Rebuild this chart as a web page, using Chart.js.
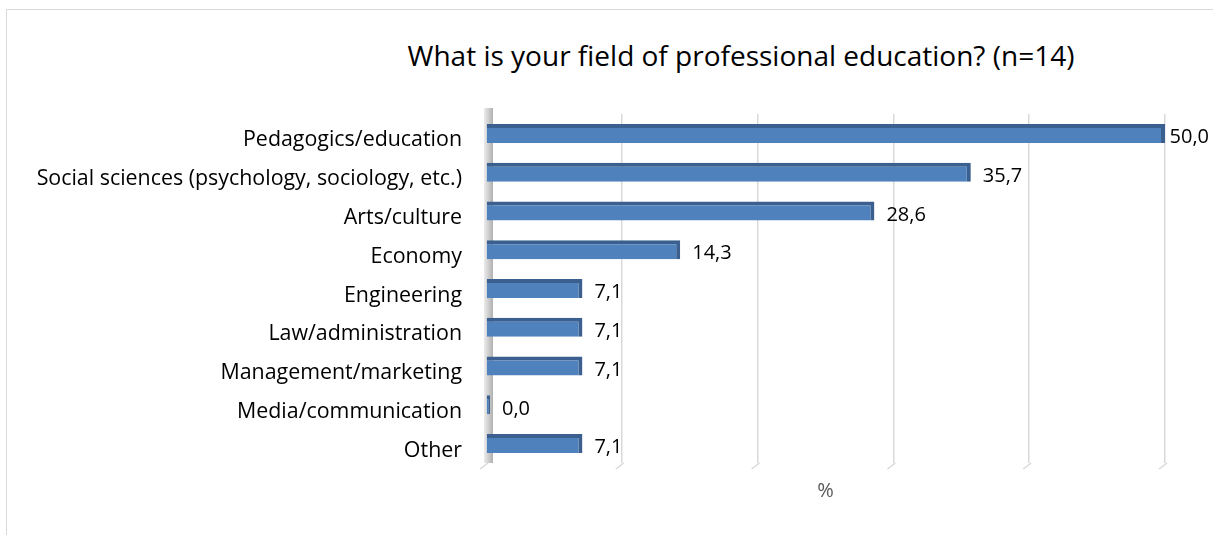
<!DOCTYPE html>
<html>
<head>
<meta charset="utf-8">
<script src="https://cdn.jsdelivr.net/npm/chart.js@4.4.1/dist/chart.umd.min.js"></script>
<style>
  html, body { margin: 0; padding: 0; background: #fff; overflow: hidden; }
  #frame { position: absolute; left: 6px; top: 9px; width: 1300px; height: 600px;
           border-left: 1px solid #d9d9d9; border-top: 1px solid #d9d9d9; }
  #title { position: absolute; left: 241px; width: 1000px; top: 36px; text-align: center;
           font-family: "Open Sans", sans-serif; font-size: 28px; color: #000; }
  #wrap { position: absolute; left: 0; top: 0; width: 1213px; height: 535px; }
</style>
</head>
<body>
<div id="frame"></div>
<div id="title">What is your field of professional education? (n=14)</div>
<div id="wrap"><canvas id="chart"></canvas></div>
<script>
// survey answers, % of respondents
var fields = ['Pedagogics/education', 'Social sciences (psychology, sociology, etc.)', 'Arts/culture',
              'Economy', 'Engineering', 'Law/administration', 'Management/marketing',
              'Media/communication', 'Other'];
var shares = [50.0, 35.7, 28.6, 14.3, 7.1, 7.1, 7.1, 0.0, 7.1];
var axisTitle = '%';

// grey side wall behind the bars
var wallPlugin = {
    id: 'wall',
    beforeDatasetsDraw: function(chart) {
        var ctx = chart.ctx, a = chart.chartArea;
        var g = ctx.createLinearGradient(a.left - 2, 0, a.left + 7, 0);
        g.addColorStop(0, '#ececec');
        g.addColorStop(1, '#b0b0b0');
        ctx.save();
        ctx.fillStyle = g;
        ctx.fillRect(a.left - 2, a.top - 6, 9, a.bottom - a.top + 6);
        // little floor toes under the gridlines
        var xs = chart.scales.x;
        ctx.strokeStyle = '#d9d9d9';
        ctx.lineWidth = 1.5;
        xs.ticks.forEach(function(t) {
            var x = xs.getPixelForValue(t.value);
            ctx.beginPath();
            ctx.moveTo(x + 2, a.bottom);
            ctx.lineTo(x - 6, a.bottom + 6);
            ctx.stroke();
        });
        ctx.restore();
    }
};

var valueLabels = {
    id: 'valueLabels',
    afterDatasetsDraw: function(chart) {
        var ctx = chart.ctx;
        var meta = chart.getDatasetMeta(0);
        ctx.save();
        ctx.font = '20px "Open Sans"';
        ctx.fillStyle = '#000';
        ctx.textBaseline = 'middle';
        meta.data.forEach(function(bar, i) {
            var txt = shares[i].toFixed(1).replace('.', ',');
            var w = ctx.measureText(txt).width;
            var x = bar.x + 12;
            if (x + w > chart.width - 4) x = chart.width - 4 - w;
            ctx.fillText(txt, x, bar.y + 4);
        });
        ctx.restore();
    }
};

var ctx = document.getElementById('chart').getContext('2d');
var chart = new Chart(ctx, {
    type: 'bar',
    data: {
        labels: fields,
        datasets: [{
            data: shares,
            backgroundColor: '#4f81bd',
            borderColor: '#3b6090',
            borderWidth: { top: 4, right: 4, bottom: 0, left: 0 },
            borderSkipped: 'start',
            barPercentage: 0.49,
            categoryPercentage: 1,
            minBarLength: 4
        }]
    },
    options: {
        indexAxis: 'y',
        responsive: true,
        maintainAspectRatio: false,
        animation: false,
        layout: { padding: { top: 114, right: 48, bottom: 28, left: 0 } },
        plugins: {
            legend: { display: false },
            tooltip: { enabled: false }
        },
        scales: {
            x: {
                min: 0,
                max: 50,
                ticks: { display: false, stepSize: 10 },
                grid: { color: '#d9d9d9', lineWidth: 1.5, drawTicks: false },
                border: { display: false },
                title: {
                    display: true,
                    text: axisTitle,
                    color: '#595959',
                    font: { family: 'Open Sans', size: 20 },
                    padding: { top: 16, bottom: 4 }
                }
            },
            y: {
                grid: { display: false },
                border: { display: false },
                ticks: {
                    color: '#000',
                    font: { family: 'Open Sans', size: 21.4 },
                    padding: 16,
                    labelOffset: 7,
                    autoSkip: false
                },
                afterFit: function(scale) { scale.width = 486; }
            }
        }
    },
    plugins: [wallPlugin, valueLabels]
});
</script>
</body>
</html>
